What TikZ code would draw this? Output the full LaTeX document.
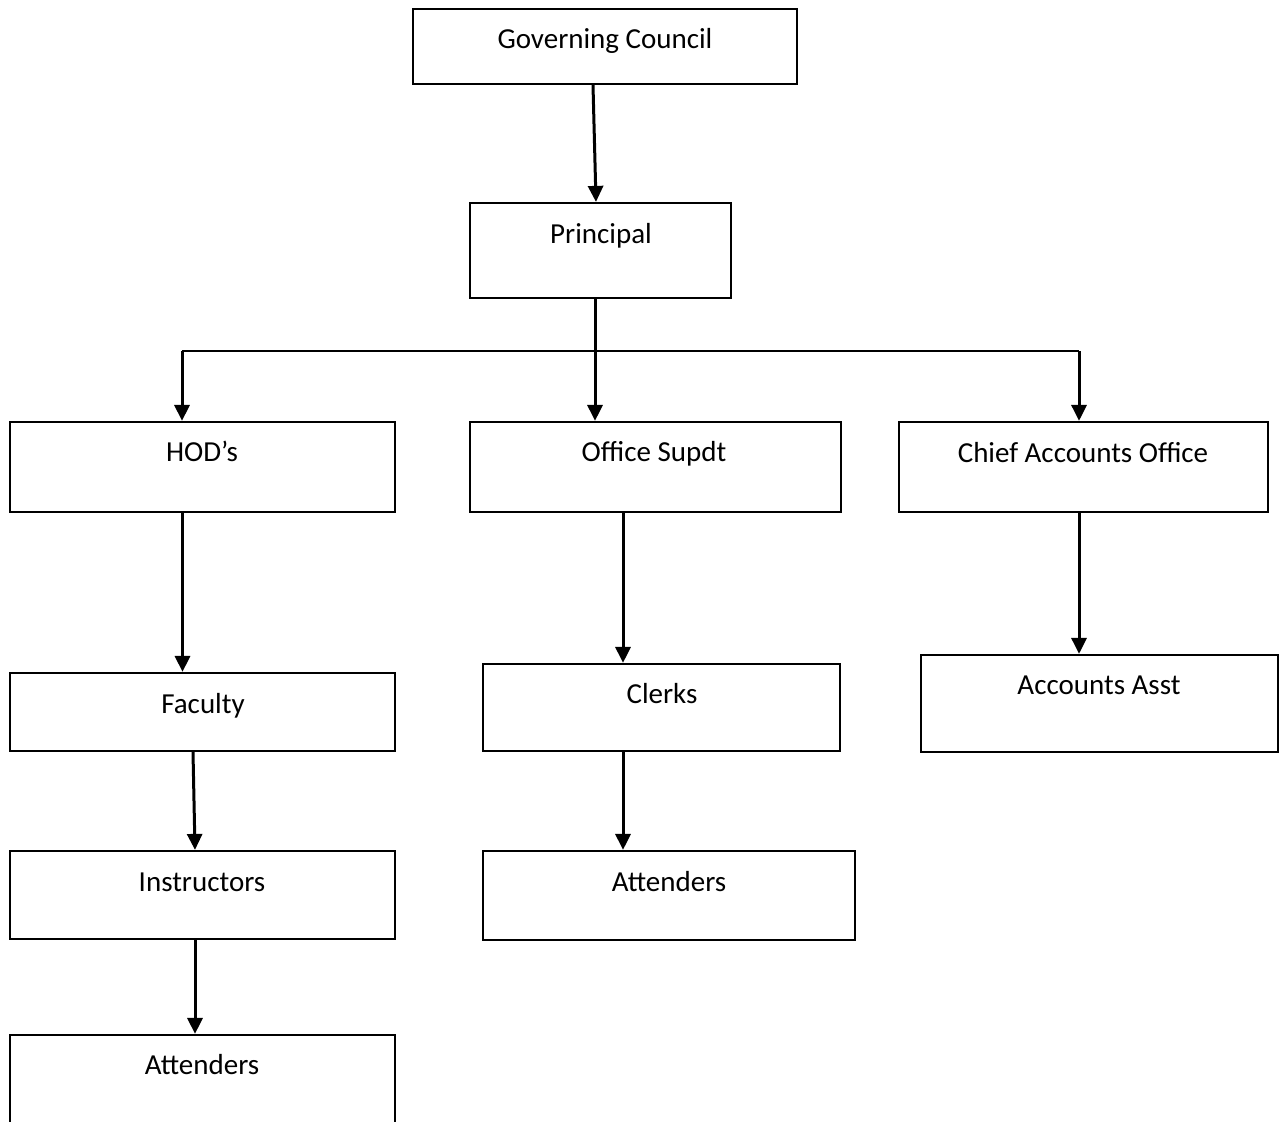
\documentclass[tikz,border=0pt]{standalone}
\usepackage{fontspec}
\setmainfont{Carlito}
\usetikzlibrary{arrows.meta}
\begin{document}
\begin{tikzpicture}[x=1pt,y=-1pt,
  box/.style={draw, line width=2.2pt, rectangle, inner sep=0pt},
  lbl/.style={font=\fontsize{29}{35}\selectfont, anchor=base, inner sep=0pt},
  conn/.style={line width=3pt, -{Triangle[width=15pt,length=16pt]}},
  bar/.style={line width=1.8pt}]
\useasboundingbox (0,0) rectangle (1280,1122);
\clip (0,0) rectangle (1280,1122);
% boxes
\node[box, minimum width=384pt, minimum height=75pt] (gc) at (605,46.5) {};
\node[box, minimum width=261pt, minimum height=95pt] (pr) at (600.5,250.5) {};
\node[box, minimum width=385pt, minimum height=90pt] (hod) at (202.5,467) {};
\node[box, minimum width=371pt, minimum height=90pt] (os) at (655.5,467) {};
\node[box, minimum width=369pt, minimum height=90pt] (ch) at (1083.5,467) {};
\node[box, minimum width=385pt, minimum height=78pt] (fac) at (202.5,712) {};
\node[box, minimum width=357pt, minimum height=87pt] (cl) at (661.5,707.5) {};
\node[box, minimum width=357pt, minimum height=97pt] (aa) at (1099.5,703.5) {};
\node[box, minimum width=385pt, minimum height=88pt] (ins) at (202.5,895) {};
\node[box, minimum width=372pt, minimum height=89pt] (ma) at (669,895.5) {};
\node[box, minimum width=385pt, minimum height=165pt] (la) at (202.5,1117.5) {};
% labels
\node[lbl] (gct) at (605,48) {Governing Council};
\node[lbl] (prt) at (601,243) {Principal};
\node[lbl] (hodt) at (202,461) {HOD’s};
\node[lbl] (ost) at (654,461) {Office Supdt};
\node[lbl] (cht) at (1083,462) {Chief Accounts Office};
\node[lbl] (fact) at (203,713) {Faculty};
\node[lbl] (clt) at (662,703) {Clerks};
\node[lbl] (aat) at (1099,694) {Accounts Asst};
\node[lbl] (inst) at (202,891) {Instructors};
\node[lbl] (mat) at (669,891) {Attenders};
\node[lbl] (lat) at (202,1074) {Attenders};
% connectors
\coordinate (hl) at (182,351);
\coordinate (hr) at (1079,351);
\draw[bar] (hl) -- (hr);
\draw[conn] ([xshift=-12pt]gc.south) -- ([xshift=-4.5pt]pr.north);
\draw[conn] ([xshift=-5.5pt]pr.south) -- ([xshift=-60.5pt]os.north);
\draw[conn] (hl) -- ([xshift=-20.5pt]hod.north);
\draw[conn] (hr) -- ([xshift=-4.5pt]ch.north);
\draw[conn] ([xshift=-20pt]hod.south) -- ([xshift=-20pt]fac.north);
\draw[conn] ([xshift=-9.5pt]fac.south) -- ([xshift=-7.5pt]ins.north);
\draw[conn] ([xshift=-7.5pt]ins.south) -- ([xshift=-7.5pt]la.north);
\draw[conn] ([xshift=-32.5pt]os.south) -- ([xshift=-38.5pt]cl.north);
\draw[conn] ([xshift=-38.5pt]cl.south) -- ([xshift=-46pt]ma.north);
\draw[conn] ([xshift=-4.5pt]ch.south) -- ([xshift=-20.5pt]aa.north);
\end{tikzpicture}
\end{document}
